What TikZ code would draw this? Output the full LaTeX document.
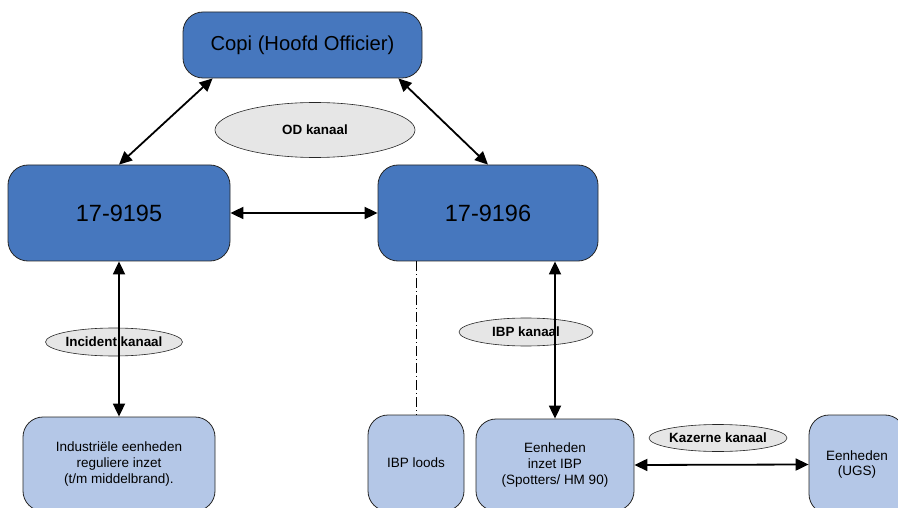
\documentclass[tikz,border=0pt]{standalone}
\usepackage{fontspec}
\setmainfont{Liberation Sans}
\usetikzlibrary{arrows.meta,shapes.geometric}

\definecolor{donkerblauw}{RGB}{70,119,190}
\definecolor{lichtblauw}{RGB}{180,199,231}
\definecolor{kanaalgrijs}{RGB}{230,230,230}

\begin{document}
\begin{tikzpicture}[x=1pt,y=-1pt,
    hoofdbox/.style={draw=black!85, fill=donkerblauw, rounded corners=20pt, line width=0.8pt},
    eenheidbox/.style={draw=black!85, fill=lichtblauw, rounded corners=20pt, line width=0.8pt,
        align=center, font=\fontsize{13.5}{15.6}\selectfont},
    kanaal/.style={draw=black!85, fill=kanaalgrijs, ellipse, inner sep=0pt, line width=0.6pt,
        font=\bfseries\fontsize{13.4}{16}\selectfont},
    verbinding/.style={line width=1.8pt, {Triangle[length=13pt,width=12pt]}-{Triangle[length=13pt,width=12pt]}}
]
    \clip (0,0) rectangle (898,508);

    % draw officer and unit boxes
    \node[hoofdbox, minimum width=239pt, minimum height=66pt, font=\fontsize{20.2}{24}\selectfont] (copi) at (302.5,45) {Copi (Hoofd Officier)};
    \node[hoofdbox, minimum width=222pt, minimum height=96pt, font=\fontsize{23.5}{27}\selectfont] (n9195) at (119,213) {17-9195};
    \node[hoofdbox, minimum width=220pt, minimum height=96pt, font=\fontsize{23.5}{27}\selectfont] (n9196) at (488,213) {17-9196};

    % draw lower boxes
    \node[eenheidbox, minimum width=192pt, minimum height=94pt] (industrie) at (119,464) {Industriële eenheden\\reguliere inzet\\(t/m middelbrand).};
    \node[eenheidbox, minimum width=96pt, minimum height=96pt] (loods) at (416,463) {IBP loods};
    \node[eenheidbox, minimum width=158pt, minimum height=92pt] (inzet) at (555,465) {Eenheden\\inzet IBP\\(Spotters/ HM 90)};
    \node[eenheidbox, minimum width=96pt, minimum height=99pt] (ugs) at (857,464.5) {Eenheden\\(UGS)};

    % draw channel labels
    \node[kanaal, minimum width=200pt, minimum height=55pt] (od) at (315,130) {OD kanaal};
    \node[kanaal, minimum width=136pt, minimum height=28pt] (incident) at (114,342) {Incident kanaal};
    \node[kanaal, minimum width=134pt, minimum height=28pt] (ibp) at (526,332) {IBP kanaal};
    \node[kanaal, minimum width=134pt, minimum height=27pt] (kazerne) at (718,438) {Kazerne kanaal};

    % draw connections
    \draw[verbinding] ([xshift=30pt]copi.south west) -- (n9195.north);
    \draw[verbinding] ([xshift=-24pt]copi.south east) -- (n9196.north);
    \draw[verbinding] (n9195.east) -- (n9196.west);
    \draw[verbinding] (n9195.south) -- (industrie.north);
    \draw[verbinding] (inzet.north |- n9196.south) -- (inzet.north);
    \draw[verbinding] (inzet.east) -- (ugs.west);
    \draw[line width=0.8pt, dash pattern=on 10pt off 3pt on 1pt off 3pt] (loods.north |- n9196.south) -- (loods.north);
\end{tikzpicture}
\end{document}
